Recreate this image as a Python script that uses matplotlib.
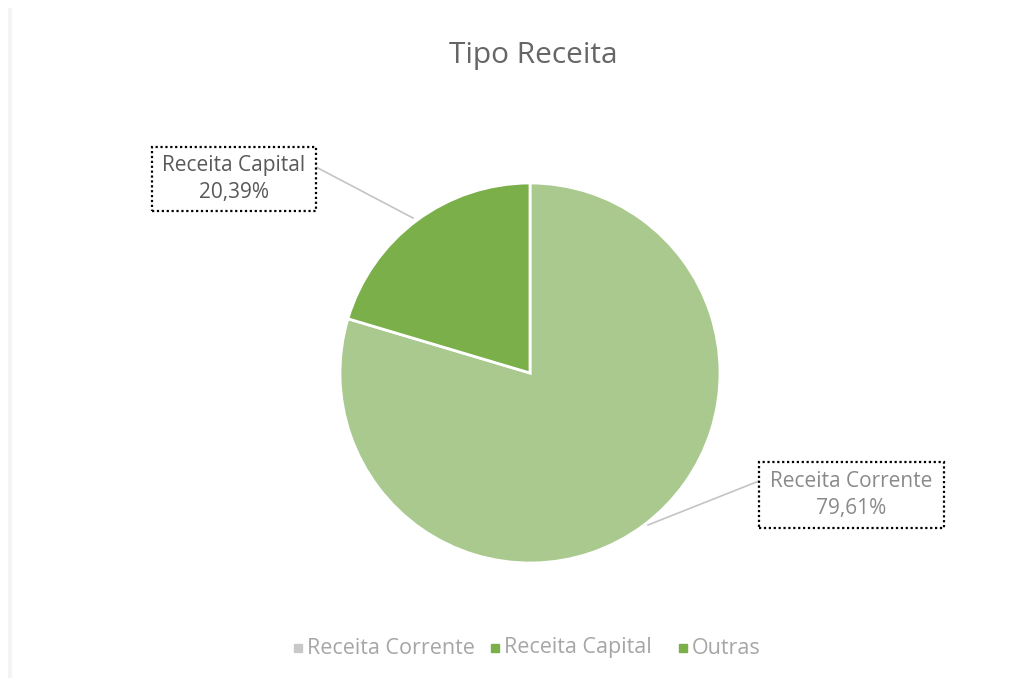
import matplotlib.pyplot as plt
from matplotlib.patches import Rectangle
from matplotlib.lines import Line2D

categorias = ['Receita Corrente', 'Receita Capital', 'Outras']
valores = [79.61, 20.39, 0.0]
rotulos = ['79,61%', '20,39%', '']
cores = ['#a9c98e', '#7aaf4a', '#7aaf4a']
cores_legenda = ['#c8c8c8', '#7aaf4a', '#7aaf4a']

W, H = 1033, 678
fig = plt.figure(figsize=(W / 100, H / 100), dpi=100)
ax = fig.add_axes([0, 0, 1, 1])

# pizza principal (sem a fatia vazia)
cx, cy, r = 530, H - 373, 190
ax.pie(valores[:2], colors=cores[:2], startangle=90, counterclock=False,
       center=(cx, cy), radius=r, frame=True,
       wedgeprops=dict(edgecolor='white', linewidth=2))
ax.set_xlim(0, W)
ax.set_ylim(0, H)
ax.set_aspect('equal')
ax.axis('off')

fig.text(533 / W, 1 - 55 / H, 'Tipo Receita', ha='center', va='center',
         fontsize=21.5, color='#666666', family='Open Sans')

# rótulos com caixa pontilhada e linha de ligação
caixas = {
    'Receita Capital': (152, 147, 316, 211, (316, 167), (413, 218), '#595959'),
    'Receita Corrente': (759, 462, 944, 528, (759, 481), (648, 525), '#8a8a8a'),
}
for i, nome in enumerate(categorias[:2]):
    x0, y0, x1, y1, p0, p1, cor_txt = caixas[nome]
    ax.add_patch(Rectangle((x0, H - y1), x1 - x0, y1 - y0, fill=True,
                           facecolor='white', edgecolor='black',
                           linestyle=(0, (1, 1.2)), linewidth=1.6, zorder=4))
    ax.add_line(Line2D([p0[0], p1[0]], [H - p0[1], H - p1[1]],
                       color='#c4c4c4', linewidth=1.2, zorder=3))
    ax.text((x0 + x1) / 2, H - (y0 + y1) / 2, f'{nome}\n{rotulos[i]}',
            ha='center', va='center', fontsize=15, color=cor_txt,
            family='Open Sans', linespacing=1.4, zorder=5)

# legenda
leg_x = [298, 495, 683]
for nome, cor, x in zip(categorias, cores_legenda, leg_x):
    ax.add_patch(Rectangle((x - 4, H - 652), 8, 8, color=cor))
    ax.text(x + 9, H - 648, nome, ha='left', va='center', fontsize=15.5,
            color='#a6a6a6', family='Open Sans')

# borda esquerda clara
ax.add_line(Line2D([10, 10], [0, H - 10], color='#f4f4f4', linewidth=3))

fig.savefig('out.png', dpi=100, facecolor='white')
